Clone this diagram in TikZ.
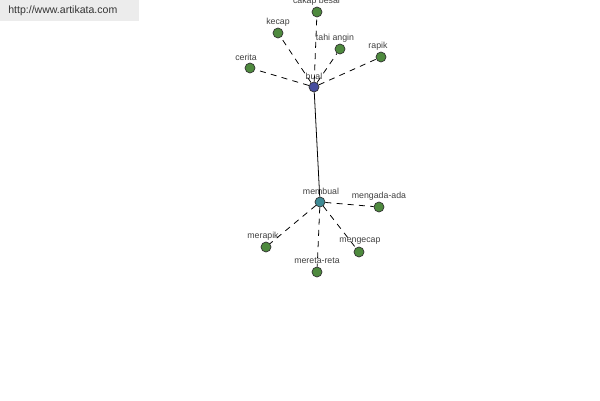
\documentclass[tikz,border=0pt]{standalone}
\usepackage{fontspec}
\setmainfont{Liberation Sans}
\definecolor{leafgreen}{RGB}{78,138,62}
\definecolor{rootblue}{RGB}{70,78,158}
\definecolor{verbteal}{RGB}{62,138,148}
\definecolor{headgray}{RGB}{236,236,236}
\tikzset{
  dot/.style={circle,draw=black!80,line width=0.4pt,fill=leafgreen,minimum size=0.2cm,inner sep=0pt},
  word/.style={font=\fontsize{5}{6}\selectfont,text=black!75,inner sep=1pt},
  link/.style={dash pattern=on 3.4pt off 3pt,line width=0.45pt}
}
\begin{document}
\begin{tikzpicture}[x=0.02cm,y=-0.02cm,line join=round]
  \useasboundingbox (0,0) rectangle (600,400);
  \fill[headgray] (0,0) rectangle (139,21);
  \node[anchor=west,font=\fontsize{6}{7}\selectfont,text=black!80,inner sep=0pt] (url) at (8,11) {http://www.artikata.com};
  % pusat
  \node[dot,fill=rootblue] (bual) at (314,87) {};
  \node[word] at (314,76) {bual};
  \node[dot,fill=verbteal] (membual) at (320,202) {};
  \node[word] at (321,191) {membual};
  \draw[line width=0.45pt] (bual) -- (membual);
  % kata sekerabat
  \foreach \n/\x/\y/\s/\t in {cakap/317/12/0/cakap besar, kecap/278/33/0/kecap, tahi/340/49/-5/tahi angin, rapik/381/57/-3/rapik, cerita/250/68/-4/cerita}{
    \node[dot] (\n) at (\x,\y) {};
    \node[word] at (\x+\s,\y-11) {\t};
    \draw[link] (bual) -- (\n);
  }
  % kata turunan
  \foreach \n/\x/\y/\s/\t in {mengada/379/207/0/mengada-ada, merapik/266/247/-3/merapik, mengecap/359/252/1/mengecap, mereta/317/272/0/mereta-reta}{
    \node[dot] (\n) at (\x,\y) {};
    \node[word] at (\x+\s,\y-11) {\t};
    \draw[link] (membual) -- (\n);
  }
\end{tikzpicture}
\end{document}
